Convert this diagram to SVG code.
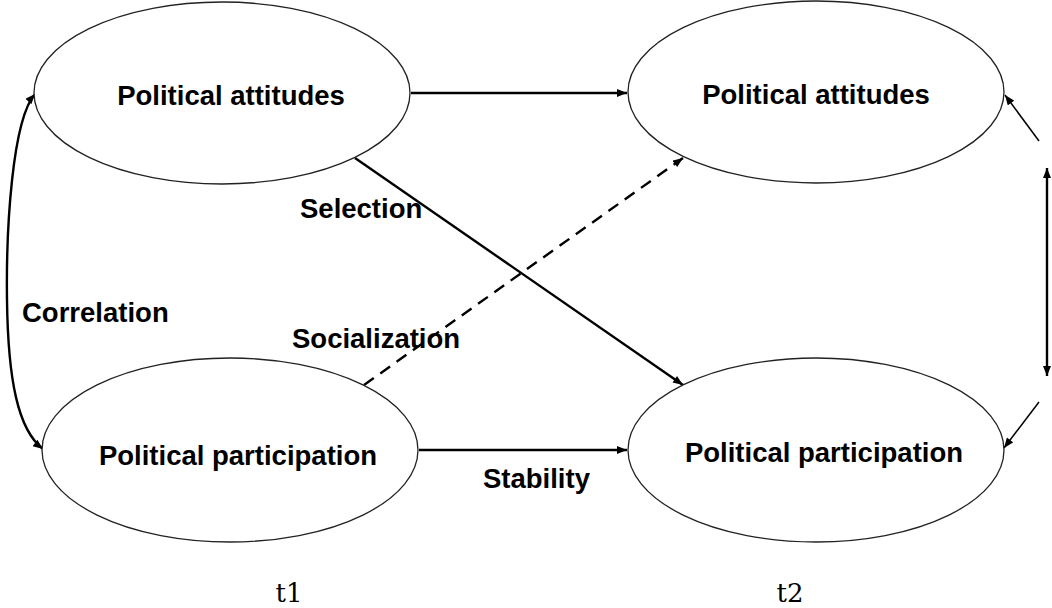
<svg xmlns="http://www.w3.org/2000/svg" width="1052" height="608" viewBox="0 0 1052 608">
<style>
.node ellipse{fill:#fff;stroke:#222;stroke-width:1.3}
.node text{font-family:"Liberation Sans",Arial,sans-serif;font-weight:bold;font-size:27.5px;fill:#000;text-anchor:middle}
.lbl{font-family:"Liberation Sans",Arial,sans-serif;font-weight:bold;font-size:27.5px;fill:#000}
.time{font-family:"DejaVu Serif","Liberation Serif",serif;font-size:26px;fill:#000;text-anchor:middle}
.edge{fill:none;stroke:#000;stroke-width:2.4}
.thin{fill:none;stroke:#000;stroke-width:1.5}
.dash{stroke-dasharray:12 8}
</style>
<defs>
<marker id="ah" viewBox="0 0 10 8" refX="10" refY="4" markerWidth="11" markerHeight="8" markerUnits="userSpaceOnUse" orient="auto-start-reverse">
<path d="M0,0 L10,4 L0,8 z" fill="#000"/>
</marker>
</defs>
<rect width="1052" height="608" fill="#fff"/>
<g id="connectors">
<line class="edge" x1="411" y1="93" x2="627" y2="93" marker-end="url(#ah)"/>
<line class="edge" x1="419" y1="450" x2="627" y2="450" marker-end="url(#ah)"/>
<line class="edge" x1="355" y1="158" x2="683" y2="385" marker-end="url(#ah)"/>
<line class="edge dash" x1="364" y1="385" x2="683" y2="158" marker-end="url(#ah)"/>
<path class="edge" d="M35,94 C12,120 6,230 7,300 C8,380 18,430 43,449" marker-start="url(#ah)" marker-end="url(#ah)"/>
<line class="edge" x1="1047" y1="168" x2="1047" y2="376" marker-start="url(#ah)" marker-end="url(#ah)"/>
<line class="thin" x1="1039" y1="141" x2="1005" y2="95" marker-end="url(#ah)"/>
<line class="thin" x1="1039" y1="402" x2="1004" y2="448" marker-end="url(#ah)"/>
</g>
<g id="n1" class="node"><ellipse cx="222" cy="93" rx="188" ry="91"/><text x="231" y="105">Political attitudes</text></g>
<g id="n2" class="node"><ellipse cx="816" cy="92" rx="188" ry="91"/><text x="816" y="104">Political attitudes</text></g>
<g id="n3" class="node"><ellipse cx="230" cy="450" rx="188" ry="92"/><text x="238" y="465">Political participation</text></g>
<g id="n4" class="node"><ellipse cx="816" cy="450" rx="188" ry="92"/><text x="824" y="462">Political participation</text></g>
<g id="labels">
<text class="lbl" x="300" y="218">Selection</text>
<text class="lbl" x="292" y="348">Socialization</text>
<text class="lbl" x="22" y="322">Correlation</text>
<text class="lbl" x="483" y="488">Stability</text>
<text class="time" x="289" y="602">t1</text>
<text class="time" x="790" y="602">t2</text>
</g>
</svg>
